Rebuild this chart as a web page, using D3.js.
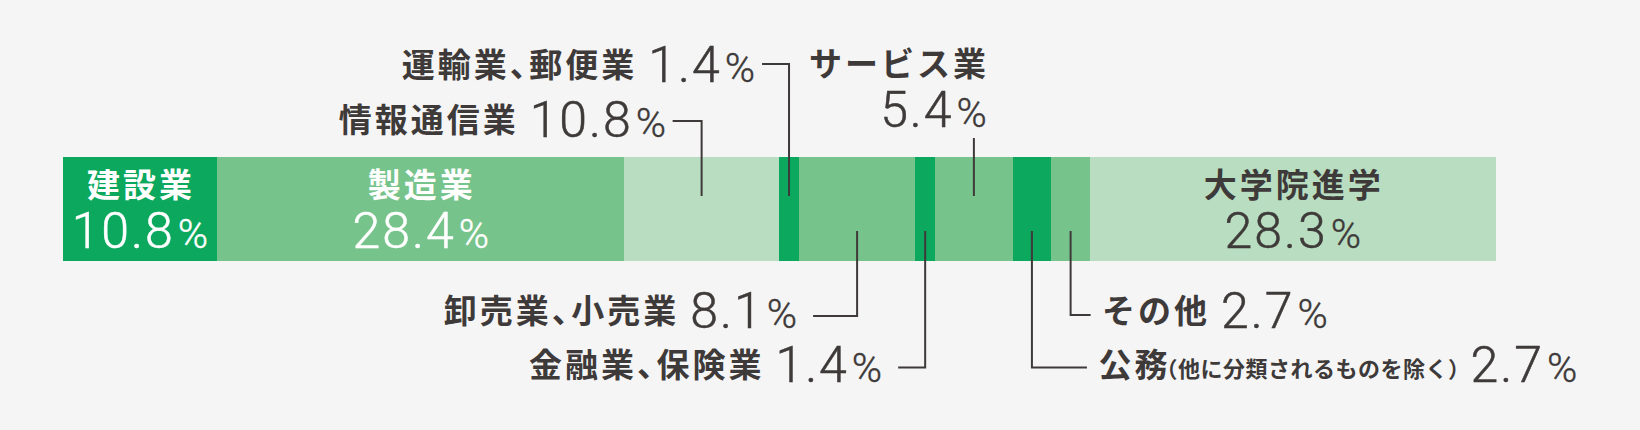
<!DOCTYPE html>
<html><head><meta charset="utf-8">
<script src="https://cdn.jsdelivr.net/npm/d3@7"></script>
<style>
html,body{margin:0;padding:0;background:#f5f5f5;}
svg{display:block;}
.jp{font-family:"Noto Sans CJK JP","Noto Sans",sans-serif;font-weight:700;font-size:33px;letter-spacing:3px;font-feature-settings:"halt";}
.sm{font-family:"Noto Sans CJK JP",sans-serif;font-weight:700;font-size:22px;letter-spacing:0.5px;font-feature-settings:"halt";}
.num{font-family:Roboto,"Noto Sans",sans-serif;font-weight:300;font-size:50px;letter-spacing:2px;stroke:currentColor;stroke-width:0.5px;}
.pct{font-family:Roboto,"Noto Sans",sans-serif;font-weight:300;font-size:41px;stroke:currentColor;stroke-width:0.4px;}
</style></head><body>
<svg id="chart" width="1640" height="430"></svg>
<script>
// ---- data ----
const categories = ["建設業","製造業","情報通信業","運輸業、郵便業","卸売業、小売業","金融業、保険業","サービス業","公務","その他","大学院進学"];
const notes      = ["","","","","","","","（他に分類されるものを除く）","",""];
const values     = [10.8,28.4,10.8,1.4,8.1,1.4,5.4,2.7,2.7,28.3];
const valueLabels= ["10.8","28.4","10.8","1.4","8.1","1.4","5.4","2.7","2.7","28.3"];
const unit = "%";

// ---- styles / layout ----
const shade = ["#0ba85e","#77c38c","#b9ddc0","#0ba85e","#77c38c","#0ba85e","#77c38c","#0ba85e","#77c38c","#b9ddc0"];
const ink = "#3e3a39";
const barTop = 157, barH = 104;
const svg = d3.select("#chart");
svg.append("rect").attr("width",1640).attr("height",430).attr("fill","#f5f5f5");

const x = d3.scaleLinear().domain([0, d3.sum(values)]).range([62.5, 1495.5]);
const ends = Array.from(d3.cumsum(values));
const starts = ends.map((e,i)=>e-values[i]);
const mid = i => x((starts[i]+ends[i])/2);

svg.append("g").selectAll("rect").data(categories).join("rect")
  .attr("x",(d,i)=>x(starts[i]))
  .attr("y",barTop)
  .attr("width",(d,i)=>x(ends[i])-x(starts[i]))
  .attr("height",barH)
  .attr("fill",(d,i)=>shade[i])
  .attr("shape-rendering","crispEdges");

// inside labels (one text element, two lines)
const inside = {0:"#ffffff",1:"#ffffff",9:ink};
const gIn = svg.append("g");
Object.keys(inside).forEach(k=>{
  const i=+k;
  const t = gIn.append("text").attr("text-anchor","middle").attr("fill",inside[k]).style("color",inside[k]);
  t.append("tspan").attr("x",mid(i)+1).attr("y",196.5).attr("class","jp").text(categories[i]);
  t.append("tspan").attr("x",mid(i)).attr("y",247.5).attr("class","num").text(valueLabels[i]);
  t.append("tspan").attr("class","pct").attr("dx",3).text(unit);
});

// outside labels with leader lines
const outside = [
  {i:2, side:"top",    elbowY:121,   arm:-29, gap:6.5, base:137.3},
  {i:3, side:"top",    elbowY:64,    arm:-27, gap:7,   base:81.7},
  {i:4, side:"bottom", elbowY:316,   arm:-44, gap:16,  base:328.3},
  {i:5, side:"bottom", elbowY:367.5, arm:-27, gap:16,  base:381.7},
  {i:7, side:"bottom", elbowY:367.5, arm:55,  gap:11.5,base:381.7},
  {i:8, side:"bottom", elbowY:315,   arm:20,  gap:11.5,base:328.3}
];
const lineTopEnd = barTop + 39, lineBotStart = barTop + barH - 30;
const gOut = svg.append("g");
function inlineLabel(g, xPos, y, anchor, i){
  const t = g.append("text").attr("x",xPos).attr("y",y).attr("text-anchor",anchor).attr("fill",ink).style("color",ink);
  t.append("tspan").attr("class","jp").attr("dy",-5).text(categories[i]);
  if (notes[i]) t.append("tspan").attr("class","sm").attr("dx",-4).text(notes[i]);
  t.append("tspan").attr("class","num").attr("dy",5).attr("dx",11).text(valueLabels[i]);
  t.append("tspan").attr("class","pct").attr("dx",3).text(unit);
}
outside.forEach(o=>{
  const lx = mid(o.i);
  const y0 = o.side==="top" ? lineTopEnd : lineBotStart;
  gOut.append("path")
    .attr("d", d3.line()([[lx,y0],[lx,o.elbowY],[lx+o.arm,o.elbowY]]))
    .attr("fill","none").attr("stroke",ink).attr("stroke-width",2);
  if (o.arm<0) inlineLabel(gOut, lx+o.arm-o.gap, o.base, "end", o.i);
  else inlineLabel(gOut, lx+o.arm+o.gap, o.base, "start", o.i);
});

// サービス業: straight leader, two-line label
{
  const i = 6, lx = mid(i);
  gOut.append("line").attr("x1",lx).attr("x2",lx).attr("y1",138).attr("y2",lineTopEnd)
    .attr("stroke",ink).attr("stroke-width",2);
  const t = gOut.append("text").attr("text-anchor","end").attr("fill",ink).style("color",ink);
  t.append("tspan").attr("x",lx+15).attr("y",76).attr("class","jp").text(categories[i]);
  t.append("tspan").attr("x",lx+13).attr("y",127.2).attr("class","num").text(valueLabels[i]);
  t.append("tspan").attr("class","pct").attr("dx",3).text(unit);
}
</script>
</body></html>
